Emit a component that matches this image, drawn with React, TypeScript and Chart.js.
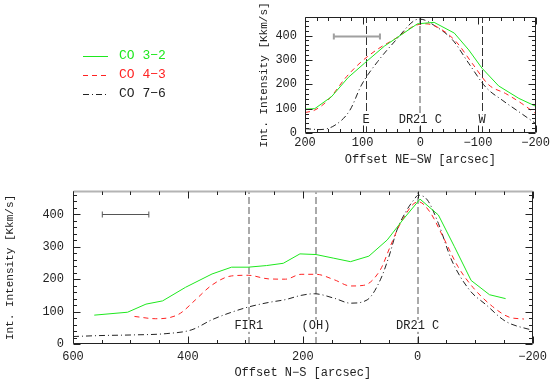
import React, { useEffect, useRef } from "react";
import { Chart, registerables } from "chart.js";
Chart.register(...registerables);

// ---------- data ----------
const seriesLabels = ["CO 3\u22122", "CO 4\u22123", "CO 7\u22126"];

// NE-SW cut (top panel)
const neOffsets32 = [200, 183, 154, 125, 97, 62, 33, 5, -24, -59, -84, -107, -136, -171, -200];
const ne32 = [98, 100, 149, 228, 286, 357, 403, 448, 454, 410, 341, 266, 193, 142, 110];
const neOffsets43 = [200, 183, 160, 128, 102, 74, 42, 10, -10, -33, -62, -90, -119, -148, -176, -200];
const ne43 = [84, 94, 135, 231, 293, 344, 389, 440, 448, 430, 375, 286, 197, 162, 121, 80];
const neOffsets76 = [200, 174, 148, 122, 102, 74, 42, 10, 0, -27, -56, -84, -114, -142, -171, -200];
const ne76 = [18, 14, 32, 94, 197, 293, 382, 462, 467, 437, 382, 286, 187, 135, 87, 39];

// N-S cut (bottom panel)
const nsOffsets32 = [563, 505, 473, 444, 404, 358, 324, 295, 263, 234, 205, 177, 147, 117, 85, 53, 25, -4, -36, -64, -93, -125, -153];
const ns32 = [89, 98, 123, 133, 175, 216, 237, 237, 242, 249, 278, 276, 265, 254, 271, 321, 385, 447, 398, 300, 196, 152, 140];
const nsOffsets43 = [493, 456, 433, 413, 387, 358, 324, 295, 260, 230, 203, 177, 145, 117, 94, 65, 48, 30, -1, -21, -44, -70, -96, -130, -159, -185];
const ns43 = [85, 78, 81, 95, 136, 182, 210, 212, 201, 200, 215, 215, 198, 179, 181, 229, 300, 372, 439, 408, 331, 239, 175, 116, 83, 77];
const nsOffsets76 = [600, 553, 496, 438, 393, 358, 324, 295, 260, 230, 203, 180, 145, 117, 88, 65, 50, 36, 20, 7, -1, -17, -36, -59, -90, -119, -153, -200];
const ns76 = [23, 26, 28, 32, 44, 75, 98, 114, 128, 137, 150, 155, 141, 126, 136, 198, 270, 352, 410, 444, 459, 444, 372, 259, 167, 121, 70, 42];

// ticks
const intensityTicks = [0, 100, 200, 300, 400];
const neTicks = [200, 100, 0, -100, -200];
const nsTicks = [600, 400, 200, 0, -200];

// markers and resolution bars
const neMarkers = [
  { x: 94, text: "E", kind: "thin" },
  { x: 0, text: "DR21 C", kind: "thick" },
  { x: -107, text: "W", kind: "thin" },
];
const nsMarkers = [
  { x: 294, text: "FIR1", kind: "thick" },
  { x: 177, text: "(OH)", kind: "thick" },
  { x: 0, text: "DR21 C", kind: "thick" },
];
const markerLabelLevel = [52, 56];
const neBeam = [150, 70];
const nsBeam = [549, 468];
const beamLevel = 400;

// ---------- styles ----------
const FONT = "'Liberation Mono', 'DejaVu Sans Mono', monospace";
const TEXT = "#222";
const GREEN = "#1ee81e";
const RED = "#ff2222";
const BLACK = "#222";

const fmt = (v: number) => (v < 0 ? "\u2212" + Math.abs(v) : String(v));
const pts = (xs: number[], ys: number[]) => xs.map((x, i) => ({ x, y: ys[i] }));

function datasets(o32: number[], v32: number[], o43: number[], v43: number[], o76: number[], v76: number[]) {
  return [
    { label: seriesLabels[0], data: pts(o32, v32), borderColor: GREEN, borderWidth: 1, pointRadius: 0, tension: 0, fill: false },
    { label: seriesLabels[1], data: pts(o43, v43), borderColor: RED, borderWidth: 1, borderDash: [5, 4], pointRadius: 0, cubicInterpolationMode: "monotone", fill: false },
    { label: seriesLabels[2], data: pts(o76, v76), borderColor: BLACK, borderWidth: 1, borderDash: [6, 3, 1, 3], pointRadius: 0, cubicInterpolationMode: "monotone", fill: false },
  ];
}

function makeFrame(id: string, xMinor: number, xMajor: number, topEdge?: string) {
  return {
    id,
    afterDatasetsDraw(chart: any) {
      const { ctx, chartArea: a } = chart;
      const xs = chart.scales.x, ys = chart.scales.y;
      const L = Math.round(a.left) + 0.5, R = Math.round(a.right) - 0.5;
      const T = Math.round(a.top) + 0.5, B = Math.round(a.bottom) - 0.5;
      ctx.save();
      ctx.setLineDash([]);
      if (topEdge) {
        ctx.strokeStyle = topEdge;
        ctx.lineWidth = 2;
        ctx.beginPath();
        ctx.moveTo(L, T); ctx.lineTo(R, T);
        ctx.stroke();
      }
      ctx.strokeStyle = "#222";
      ctx.lineWidth = 1;
      ctx.beginPath();
      const seg = (x1: number, y1: number, x2: number, y2: number) => { ctx.moveTo(x1, y1); ctx.lineTo(x2, y2); };
      seg(L, T, L, B); seg(L, B, R, B); seg(R, B, R, T);
      if (!topEdge) seg(L, T, R, T);
      for (let v = xs.min; v <= xs.max + 1e-6; v += xMinor) {
        const px = Math.round(xs.getPixelForValue(v)) + 0.5;
        const major = Math.abs(Math.round(v) % xMajor) < 1e-6;
        const len = major ? 7 : 3.5;
        seg(px, B, px, B - len); seg(px, T, px, T + len);
      }
      for (let v = 0; v <= ys.max + 1e-6; v += 20) {
        const py = Math.round(ys.getPixelForValue(v)) + 0.5;
        const major = v % 100 === 0;
        const len = major ? 7 : 3.5;
        seg(L, py, L + len, py); seg(R, py, R - len, py);
      }
      ctx.stroke();
      ctx.restore();
    },
  };
}

function makeAnnotations(id: string, markers: any[], labelLevel: number, beam: number[], beamColor: string, beamWidth: number) {
  return {
    id,
    beforeDatasetsDraw(chart: any) {
      const { ctx, chartArea: a } = chart;
      const xs = chart.scales.x, ys = chart.scales.y;
      ctx.save();
      markers.forEach((m) => {
        const px = Math.round(xs.getPixelForValue(m.x)) + (m.kind === "thick" ? 0 : 0.5);
        ctx.beginPath();
        if (m.kind === "thick") {
          ctx.strokeStyle = "#aaaaaa"; ctx.lineWidth = 2; ctx.setLineDash([7, 3]);
        } else {
          ctx.strokeStyle = "#333"; ctx.lineWidth = 1; ctx.setLineDash([8, 3]);
        }
        ctx.moveTo(px, a.bottom); ctx.lineTo(px, a.top);
        ctx.stroke();
      });
      ctx.setLineDash([]);
      ctx.font = "12px " + FONT;
      ctx.textAlign = "center";
      ctx.textBaseline = "middle";
      markers.forEach((m) => {
        const px = xs.getPixelForValue(m.x);
        const py = ys.getPixelForValue(labelLevel);
        const w = ctx.measureText(m.text).width;
        ctx.fillStyle = "#fff";
        ctx.fillRect(px - w / 2 - 1, py - 6, w + 2, 12);
        ctx.fillStyle = TEXT;
        ctx.fillText(m.text, px, py);
      });
      // resolution bar
      const x1 = xs.getPixelForValue(beam[0]), x2 = xs.getPixelForValue(beam[1]);
      const by = Math.round(ys.getPixelForValue(beamLevel)) + 0.5;
      ctx.strokeStyle = beamColor; ctx.lineWidth = beamWidth;
      ctx.beginPath();
      ctx.moveTo(x1, by); ctx.lineTo(x2, by);
      ctx.moveTo(x1, by - 3); ctx.lineTo(x1, by + 3);
      ctx.moveTo(x2, by - 3); ctx.lineTo(x2, by + 3);
      ctx.stroke();
      ctx.restore();
    },
  };
}

const legendPlugin = {
  id: "cornerLegend",
  afterDraw(chart: any) {
    const { ctx } = chart;
    const rows = [56, 75, 94];
    const textColors = [GREEN, RED, BLACK];
    ctx.save();
    ctx.font = "13px " + FONT;
    ctx.textBaseline = "middle";
    ctx.textAlign = "left";
    chart.data.datasets.forEach((ds: any, i: number) => {
      const y = rows[i] + 0.5;
      ctx.strokeStyle = ds.borderColor;
      ctx.lineWidth = 1;
      ctx.setLineDash(ds.borderDash || []);
      ctx.beginPath();
      ctx.moveTo(83, y); ctx.lineTo(108, y);
      ctx.stroke();
      ctx.fillStyle = textColors[i];
      ctx.fillText(ds.label, 119, rows[i]);
    });
    ctx.restore();
  },
};

function axisCommon(tickValues: number[], fitKey: "width" | "height", fitVal: number, pad: number, title: string, titleSize: number) {
  return {
    type: "linear",
    afterBuildTicks: (s: any) => { s.ticks = tickValues.map((v) => ({ value: v })); },
    afterFit: (s: any) => { s[fitKey] = fitVal; },
    grid: { display: false, drawTicks: false },
    border: { display: false },
    ticks: { font: { family: FONT, size: 12 }, color: TEXT, padding: pad, autoSkip: false, maxRotation: 0, callback: (v: any) => fmt(Number(v)) },
    title: { display: true, text: title, font: { family: FONT, size: titleSize }, color: TEXT, padding: 0 },
  };
}

export default function App() {
  const topRef = useRef<HTMLCanvasElement>(null);
  const botRef = useRef<HTMLCanvasElement>(null);

  useEffect(() => {
    const top = new Chart(topRef.current as HTMLCanvasElement, {
      type: "line",
      data: { datasets: datasets(neOffsets32, ne32, neOffsets43, ne43, neOffsets76, ne76) as any },
      options: {
        animation: false,
        responsive: false,
        events: [],
        layout: { padding: { left: 257, right: 16, top: 17, bottom: 8 } },
        plugins: { legend: { display: false }, tooltip: { enabled: false } },
        scales: {
          x: { ...axisCommon(neTicks, "height", 34, 3, "Offset NE\u2212SW [arcsec]", 12), reverse: true, min: -200, max: 200 } as any,
          y: { ...axisCommon(intensityTicks, "width", 48, 8, "Int. Intensity [Kkm/s]", 11), min: 0, max: 476 } as any,
        },
      },
      plugins: [makeAnnotations("annTop", neMarkers, markerLabelLevel[0], neBeam, "#a0a0a0", 2), makeFrame("frameTop", 20, 100), legendPlugin],
    });
    const bot = new Chart(botRef.current as HTMLCanvasElement, {
      type: "line",
      data: { datasets: datasets(nsOffsets32, ns32, nsOffsets43, ns43, nsOffsets76, ns76) as any },
      options: {
        animation: false,
        responsive: false,
        events: [],
        layout: { padding: { left: 3, right: 16, top: 191, bottom: 0 } },
        plugins: { legend: { display: false }, tooltip: { enabled: false } },
        scales: {
          x: { ...axisCommon(nsTicks, "height", 36, 6, "Offset N\u2212S [arcsec]", 12), reverse: true, min: -200, max: 600 } as any,
          y: { ...axisCommon(intensityTicks, "width", 70, 9, "Int. Intensity [Kkm/s]", 11), min: 0, max: 472 } as any,
        },
      },
      plugins: [makeAnnotations("annBot", nsMarkers, markerLabelLevel[1], nsBeam, "#555", 1), makeFrame("frameBot", 50, 200, "#b4b4b4")],
    });
    return () => { top.destroy(); bot.destroy(); };
  }, []);

  return (
    <div style={{ position: "fixed", left: 0, top: 0, width: 553, height: 380, background: "#fff", overflow: "hidden" }}>
      <canvas ref={botRef} width={553} height={380} style={{ position: "absolute", left: 0, top: 0 }} />
      <canvas ref={topRef} width={553} height={175} style={{ position: "absolute", left: 0, top: 0 }} />
    </div>
  );
}
